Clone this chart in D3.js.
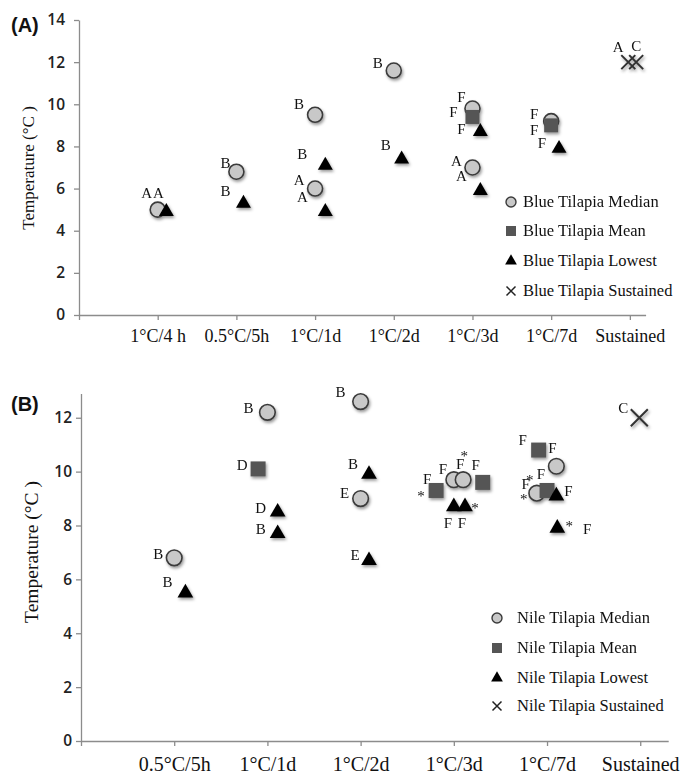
<!DOCTYPE html>
<html>
<head>
<meta charset="utf-8">
<script src="https://cdn.jsdelivr.net/npm/d3@7"></script>
<style>
  body { margin: 0; background: #fff; }
  svg { display: block; }
</style>
</head>
<body>
<svg width="681" height="776"></svg>
<script>
// ---- data, panel A (blue tilapia) ----
const catsA = ["1°C/4 h", "0.5°C/5h", "1°C/1d", "1°C/2d", "1°C/3d", "1°C/7d", "Sustained"];
const blueMedian = [[1, 5.0], [2, 6.8], [3, 9.5], [3, 6.0], [4, 11.6], [5, 9.8], [5, 7.0], [6, 9.2]];
const blueMean = [[5, 9.4], [6, 9.0]];
const blueLowest = [[1.11, 4.9], [2.09, 5.3], [3.13, 7.1], [3.13, 4.9], [4.1, 7.4], [5.1, 8.7], [5.1, 5.9], [6.1, 7.9]];
const blueSustained = [[6.98, 12.0], [7.08, 12.0]];
// letters: [series, point index, text, dx, dy]
const notesA = [
  ["m", 0, "A", -11, -17], ["l", 0, "A", -8, -19],
  ["m", 1, "B", -11, -9], ["l", 1, "B", -18, -12],
  ["m", 2, "B", -16, -11], ["l", 2, "B", -23, -11],
  ["m", 3, "A", -16, -9], ["l", 3, "A", -23, -15],
  ["m", 4, "B", -16, -8], ["l", 4, "B", -16, -14],
  ["m", 5, "F", -11, -12], ["s", 0, "F", -19, -5], ["l", 5, "F", -19, -3],
  ["m", 6, "A", -16, -7], ["l", 6, "A", -19, -15],
  ["m", 7, "F", -17, -7], ["s", 1, "F", -17, 5], ["l", 7, "F", -17, -6],
  ["x", 0, "A", -10, -15], ["x", 1, "C", 0, -16]
];

// ---- data, panel B (nile tilapia) ----
const catsB = ["0.5°C/5h", "1°C/1d", "1°C/2d", "1°C/3d", "1°C/7d", "Sustained"];
const nileMedian = [[1, 6.8], [2, 12.2], [3, 12.6], [3, 9.0], [4.0, 9.7], [4.1, 9.7], [5.1, 10.2], [4.89, 9.2]];
const nileMean = [[1.9, 10.1], [3.81, 9.3], [4.31, 9.6], [4.91, 10.8], [5.0, 9.3]];
const nileLowest = [[1.12, 5.5], [2.11, 8.5], [2.11, 7.7], [3.09, 9.9], [3.09, 6.7], [4.0, 8.7], [4.12, 8.7], [5.1, 9.1], [5.11, 7.9]];
const nileSustained = [[5.99, 12.0]];
const notesB = [
  ["m", 0, "B", -16, -4], ["l", 0, "B", -18, -11],
  ["m", 1, "B", -19, -4], ["s", 0, "D", -16, -4], ["l", 1, "D", -17, -4], ["l", 2, "B", -17, -5],
  ["m", 2, "B", -20, -10], ["l", 3, "B", -16, -10], ["m", 3, "E", -16, -6], ["l", 4, "E", -14, -6],
  ["s", 1, "F", -9, -11], ["s", 1, "*", -15, 3],
  ["m", 4, "F", -11, -11], ["m", 5, "F", -3, -16], ["m", 5, "*", 1, -27],
  ["s", 2, "F", -7, -17], ["l", 5, "F", -6, 16], ["l", 6, "F", -3, 16], ["l", 6, "*", 10, -2],
  ["s", 3, "F", -16, -10], ["m", 6, "F", -4, -18],
  ["m", 7, "F", -11, -9], ["m", 7, "*", -7, -16], ["m", 7, "*", -13, 3],
  ["s", 4, "F", -6, -16], ["l", 7, "F", 12, -5],
  ["l", 8, "*", 12, -5], ["l", 8, "F", 30, 1],
  ["x", 0, "C", -16, -10]
];

const serif = "'Liberation Serif', 'Times New Roman', serif";
const svg = d3.select("svg");

// soft shadow like the office chart markers
svg.append("defs").append("filter").attr("id", "shadow")
  .attr("x", "-50%").attr("y", "-50%").attr("width", "200%").attr("height", "200%")
  .append("feDropShadow")
  .attr("dx", 1.2).attr("dy", 2).attr("stdDeviation", 1.4)
  .attr("flood-color", "#000").attr("flood-opacity", 0.4);

drawPanel({
  tag: "(A)", tagY: 32, cats: catsA,
  left: 79, right: 645.6, xMax: 7.2, top: 20, bottom: 315, yMax: 14,
  xFont: 18, xPad: 9, yFont: 15.5, yPad: 9, titleX: 28, titleY: 168, titleFont: 17,
  r: 7.5, sq: 14, tri: 97, cross: 7,
  median: blueMedian, mean: blueMean, lowest: blueLowest, sustained: blueSustained, notes: notesA,
  legendX: 511, legendTextX: 523, legendY: [202, 231, 261, 291], name: "Blue Tilapia"
});

drawPanel({
  tag: "(B)", tagY: 411, cats: catsB,
  left: 81, right: 668.2, xMax: 6.3, top: 393.5, bottom: 741, yMax: 12.9,
  xFont: 20, xPad: 11, yFont: 15.5, yPad: 4, titleX: 31.7, titleY: 552, titleFont: 19.5,
  r: 7.8, sq: 15, tri: 107, cross: 8.5,
  median: nileMedian, mean: nileMean, lowest: nileLowest, sustained: nileSustained, notes: notesB,
  legendX: 497, legendTextX: 517, legendY: [618, 648, 678, 706], name: "Nile Tilapia"
});

function drawPanel(p) {
  const x = d3.scaleLinear().domain([0, p.xMax]).range([p.left, p.right]);
  const y = d3.scaleLinear().domain([0, p.yMax]).range([p.bottom, p.top]);

  // x axis, categories sit on the integer ticks
  const gx = svg.append("g").attr("transform", `translate(0,${p.bottom})`)
    .call(d3.axisBottom(x)
      .tickValues(d3.range(0, p.cats.length + 1))
      .tickSize(5).tickSizeOuter(0).tickPadding(p.xPad)
      .tickFormat(i => i ? p.cats[i - 1] : ""));
  gx.selectAll("text").attr("font-family", serif).attr("font-size", p.xFont).attr("fill", "#111");
  gx.selectAll("path, line").attr("stroke", "#8c8c8c").attr("stroke-width", 1.3);

  const gy = svg.append("g").attr("transform", `translate(${p.left},0)`)
    .call(d3.axisLeft(y)
      .tickValues(d3.range(0, p.yMax + 0.01, 2))
      .tickSize(5).tickSizeOuter(0).tickPadding(p.yPad));
  gy.selectAll("text").attr("font-family", "'Open Sans', sans-serif").attr("font-weight", 600)
    .attr("font-size", p.yFont).attr("fill", "#222");
  gy.selectAll("path, line").attr("stroke", "#8c8c8c").attr("stroke-width", 1.3);

  svg.append("text")
    .attr("transform", `translate(${p.titleX},${p.titleY}) rotate(-90)`)
    .attr("text-anchor", "middle").attr("dominant-baseline", "central")
    .attr("font-family", serif).attr("font-size", p.titleFont).attr("fill", "#111")
    .text("Temperature (°C )");

  svg.append("text").attr("x", 11).attr("y", p.tagY)
    .attr("font-family", "'Liberation Sans', Arial, sans-serif").attr("font-weight", "bold")
    .attr("font-size", 20).attr("fill", "#111").text(p.tag);

  // marks: circles under squares under triangles
  const g = svg.append("g").attr("filter", "url(#shadow)");
  g.selectAll("circle").data(p.median).join("circle")
    .attr("cx", d => x(d[0])).attr("cy", d => y(d[1])).attr("r", p.r)
    .attr("fill", "#c8c8c8").attr("stroke", "#3a3a3a").attr("stroke-width", 1.6);
  g.selectAll("rect").data(p.mean).join("rect")
    .attr("x", d => x(d[0]) - p.sq / 2).attr("y", d => y(d[1]) - p.sq / 2)
    .attr("width", p.sq).attr("height", p.sq).attr("fill", "#555");
  g.selectAll("path.tri").data(p.lowest).join("path").attr("class", "tri")
    .attr("transform", d => `translate(${x(d[0])},${y(d[1])})`)
    .attr("d", d3.symbol(d3.symbolTriangle, p.tri)).attr("fill", "#000");
  const c = p.cross;
  g.selectAll("path.cross").data(p.sustained).join("path").attr("class", "cross")
    .attr("transform", d => `translate(${x(d[0])},${y(d[1])})`)
    .attr("d", `M${-c},${-c}L${c},${c}M${-c},${c}L${c},${-c}`)
    .attr("stroke", "#333").attr("stroke-width", 2).attr("fill", "none");

  // significance letters
  const series = { m: p.median, s: p.mean, l: p.lowest, x: p.sustained };
  svg.append("g").selectAll("text").data(p.notes).join("text")
    .attr("x", d => x(series[d[0]][d[1]][0]) + d[3])
    .attr("y", d => y(series[d[0]][d[1]][1]) + d[4] + (d[2] === "*" ? 8 : 5))
    .attr("text-anchor", "middle")
    .attr("font-family", serif).attr("font-size", 15).attr("fill", "#111")
    .text(d => d[2]);

  // legend
  const lg = svg.append("g");
  const sym = ["circle", "square", "triangle", "cross"];
  const labels = ["Median", "Mean", "Lowest", "Sustained"];
  sym.forEach((s, i) => {
    const cy = p.legendY[i];
    if (s === "circle") lg.append("circle").attr("cx", p.legendX).attr("cy", cy).attr("r", 5)
      .attr("fill", "#c8c8c8").attr("stroke", "#3a3a3a").attr("stroke-width", 1.4);
    if (s === "square") lg.append("rect").attr("x", p.legendX - 5).attr("y", cy - 5)
      .attr("width", 10).attr("height", 10).attr("fill", "#555");
    if (s === "triangle") lg.append("path").attr("transform", `translate(${p.legendX},${cy})`)
      .attr("d", d3.symbol(d3.symbolTriangle, 60)).attr("fill", "#000");
    if (s === "cross") lg.append("path").attr("transform", `translate(${p.legendX},${cy})`)
      .attr("d", "M-4.5,-4.5L4.5,4.5M-4.5,4.5L4.5,-4.5").attr("stroke", "#222").attr("stroke-width", 1.5);
    lg.append("text").attr("x", p.legendTextX).attr("y", cy + 5)
      .attr("font-family", serif).attr("font-size", 16.5).attr("fill", "#111")
      .text(`${p.name} ${labels[i]}`);
  });
}
</script>
</body>
</html>
